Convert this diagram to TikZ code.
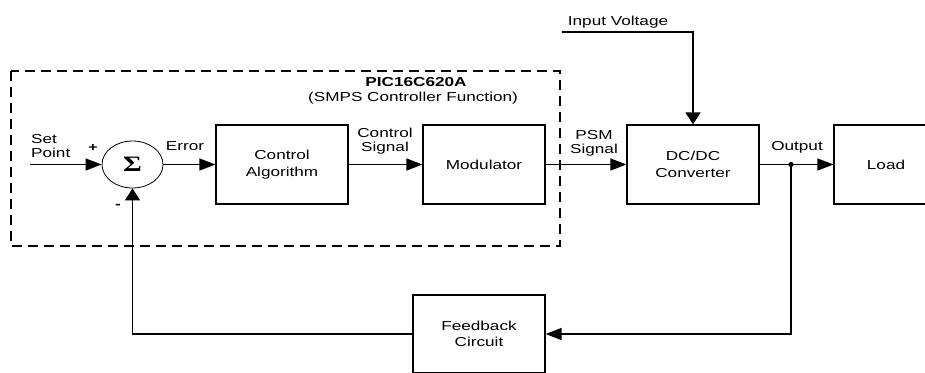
\documentclass[tikz,border=0pt]{standalone}
\usepackage{fontspec}
\setmainfont{Liberation Sans}[FakeStretch=1.32]
\newfontfamily\sigmafont{Liberation Serif}[FakeStretch=1.3]
\usetikzlibrary{shapes.geometric,arrows.meta}
\begin{document}
\begin{tikzpicture}[x=1pt,y=-1pt,
  every node/.style={inner sep=0pt},
  boxtext/.style={font=\fontsize{13}{16.5}\selectfont, align=center},
  lbltext/.style={font=\fontsize{13}{14}\selectfont, align=center},
  block/.style={draw, line width=1.2pt, boxtext},
  wire/.style={line width=1.3pt},
  harr/.style={-{Triangle[length=16pt,width=12pt]}},
  varr/.style={-{Triangle[length=12pt,width=15pt]}}]
\useasboundingbox (0,0) rectangle (925,372);
\clip (0,0) rectangle (925,372);

% controller boundary
\draw[line width=1.2pt, dash pattern=on 10pt off 6pt] (11,71) rectangle (560,246);
\node[lbltext, font=\fontsize{13}{14}\selectfont\bfseries] (chip) at (416,82) {PIC16C620A};
\node[lbltext] (chipfn) at (413,98) {(SMPS Controller Function)};

% summing junction
\node[draw, ellipse, line width=0.8pt, minimum width=61pt, minimum height=47pt] (sum) at (132.5,164.5)
  {\sigmafont\bfseries\fontsize{22}{22}\selectfont Σ};

% blocks
\node[block, minimum width=132pt, minimum height=79pt] (ctrl) at (282,164.5) {Control\\Algorithm};
\node[block, minimum width=122pt, minimum height=79pt] (mod) at (484,164.5) {Modulator};
\node[block, minimum width=132pt, minimum height=79pt] (dcdc) at (693,164.5) {DC/DC\\Converter};
\node[block, minimum width=104pt, minimum height=79pt] (load) at (886,164.5) {Load};
\node[block, minimum width=132pt, minimum height=78pt] (fb) at (479,334) {Feedback\\Circuit};

% signal labels
\node[lbltext, align=left, anchor=west] (setpt) at (31,146) {Set\\Point};
\node[font=\fontsize{12}{12}\selectfont\bfseries] (plus) at (93,148) {+};
\node[font=\fontsize{13}{13}\selectfont\bfseries] (minus) at (118,206) {-};
\node[lbltext] (errl) at (185,146) {Error};
\node[lbltext] (csl) at (385,141) {Control\\Signal};
\node[lbltext] (psml) at (594,143) {PSM\\Signal};
\node[lbltext] (outl) at (797,147) {Output};
\node[lbltext] (ivl) at (618,22) {Input Voltage};

% forward path
\coordinate (sp) at (30,164.5);
\draw[wire, harr] (sp) -- (sum.west);
\draw[wire, harr] (sum.east) -- (ctrl.west);
\draw[wire, harr] (ctrl.east) -- (mod.west);
\draw[wire, harr] (mod.east) -- (dcdc.west);
\draw[wire, harr] (dcdc.east) -- (load.west);

% supply input
\coordinate (iv) at (562,32);
\draw[wire, varr] (iv) -- (dcdc.north |- iv) -- (dcdc.north);

% feedback path
\coordinate (tap) at (791,164.5);
\fill (tap) circle (2.6pt);
\draw[wire, harr] (tap) |- (fb.east);
\draw[wire, varr] (fb.west) -| (sum.south);
\end{tikzpicture}
\end{document}
